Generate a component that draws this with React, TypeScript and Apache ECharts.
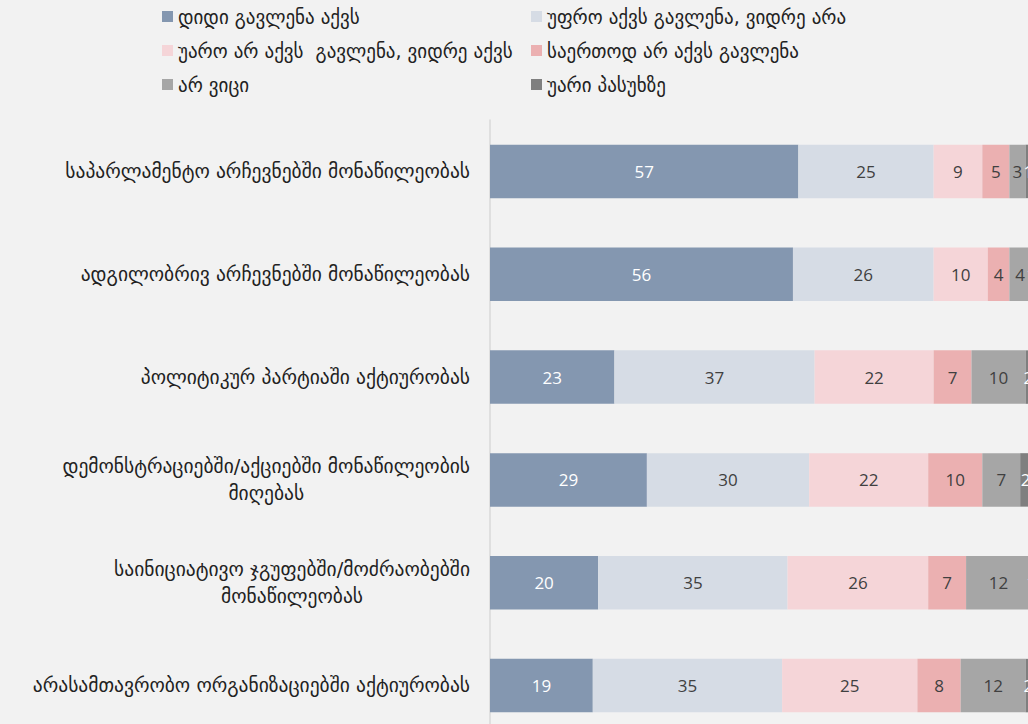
import React, { useEffect, useRef } from "react";
import * as echarts from "echarts";

const categories = [
  "საპარლამენტო არჩევნებში მონაწილეობას",
  "ადგილობრივ არჩევნებში მონაწილეობას",
  "პოლიტიკურ პარტიაში აქტიურობას",
  "დემონსტრაციებში/აქციებში მონაწილეობის\nმიღებას",
  "საინიციატივო ჯგუფებში/მოძრაობებში\nმონაწილეობას",
  "არასამთავრობო ორგანიზაციებში აქტიურობას",
];

const seriesNames = [
  "დიდი გავლენა აქვს",
  "უფრო აქვს გავლენა, ვიდრე არა",
  "უარო არ აქვს  გავლენა, ვიდრე აქვს",
  "საერთოდ არ აქვს გავლენა",
  "არ ვიცი",
  "უარი პასუხზე",
];

const bigInfluence = [57, 56, 23, 29, 20, 19];
const ratherHas = [25, 26, 37, 30, 35, 35];
const ratherNot = [9, 10, 22, 22, 26, 25];
const noInfluence = [5, 4, 7, 10, 7, 8];
const dontKnow = [3, 4, 10, 7, 12, 12];
const refused = [1, 1, 2, 2, 1, 2];

const values = [bigInfluence, ratherHas, ratherNot, noInfluence, dontKnow, refused];
const colors = ["#8497b0", "#d6dce5", "#f5d5d8", "#ebb0b1", "#a6a6a6", "#7f7f7f"];
const labelColors = ["#ffffff", "#404040", "#404040", "#404040", "#404040", "#ffffff"];

export default function App() {
  const ref = useRef<HTMLDivElement>(null);
  useEffect(() => {
    if (!ref.current) return;
    const chart = echarts.init(ref.current, null, { renderer: "svg" });
    const legendText = { fontSize: 19, color: "#222", fontFamily: "DejaVu Sans" };
    chart.setOption({
      animation: false,
      backgroundColor: "#f2f2f2",
      legend: [
        {
          left: 157,
          top: 2,
          orient: "vertical",
          itemGap: 15,
          itemWidth: 11,
          itemHeight: 11,
          icon: "rect",
          textStyle: legendText,
          data: [seriesNames[0], seriesNames[2], seriesNames[4]],
        },
        {
          left: 526,
          top: 2,
          orient: "vertical",
          itemGap: 15,
          itemWidth: 11,
          itemHeight: 11,
          icon: "rect",
          textStyle: legendText,
          data: [seriesNames[1], seriesNames[3], seriesNames[5]],
        },
      ],
      grid: {
        left: 490,
        top: 120,
        right: -3,
        bottom: -13,
        containLabel: false,
        outerBoundsMode: "none",
      },
      xAxis: {
        type: "value",
        min: 0,
        max: 100,
        show: false,
      },
      yAxis: {
        type: "category",
        inverse: true,
        data: categories,
        axisTick: { show: false },
        axisLine: { show: true, lineStyle: { color: "#d9d9d9", width: 1.5 } },
        axisLabel: {
          margin: 20,
          formatter: (v: string) =>
            v
              .split("\n")
              .map((l) => "{c|" + l + "}")
              .join("\n"),
          rich: {
            c: {
              align: "center",
              fontSize: 19.5,
              lineHeight: 27,
              color: "#222",
              fontFamily: "DejaVu Sans",
            },
          },
        },
      },
      series: values.map((arr, i) => ({
        name: seriesNames[i],
        type: "bar",
        stack: "total",
        barWidth: "52%",
        data: arr,
        itemStyle: { color: colors[i] },
        label: {
          show: true,
          position: "inside",
          color: labelColors[i],
          fontSize: 17,
          fontFamily: "Open Sans",
        },
      })),
    });
    return () => chart.dispose();
  }, []);
  return <div ref={ref} style={{ width: 1028, height: 724, position: "absolute", left: 0, top: 0 }} />;
}
